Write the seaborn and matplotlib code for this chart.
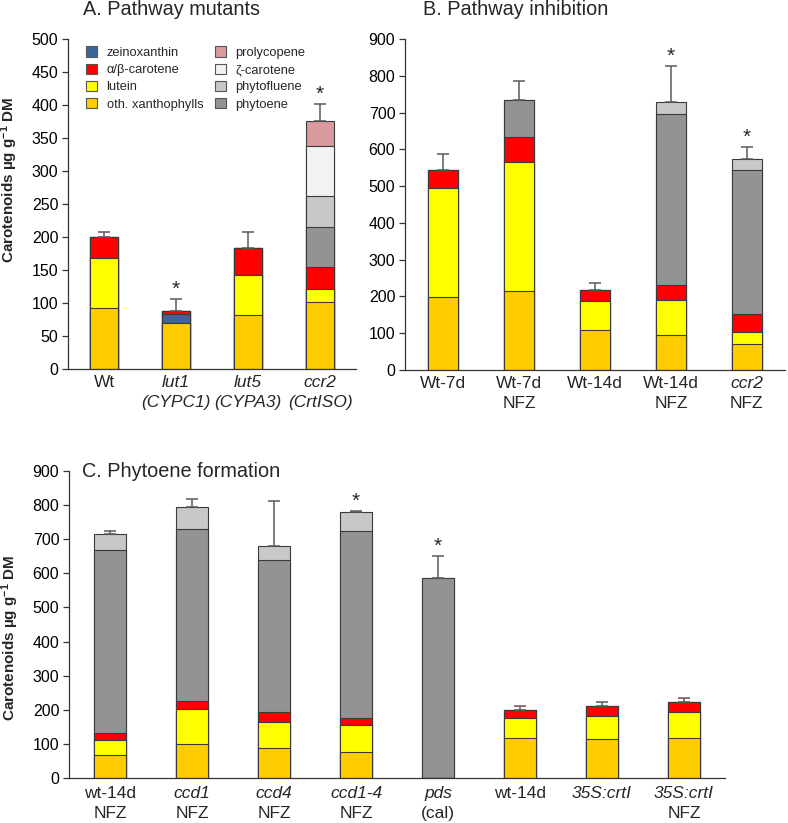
import numpy as np
import seaborn as sns
import matplotlib
matplotlib.use('Agg')
import matplotlib.pyplot as plt
from matplotlib.patches import Patch

# ---------------- data ---------------- #
comp_names = ['oth. xanthophylls', 'lutein', 'zeinoxanthin', u'\u03b1/\u03b2-carotene',
              'phytoene', 'phytofluene', u'\u03b6-carotene', 'prolycopene']
comp_colors = ['#FFCC00', '#FFFF00', '#3A6699', '#FF0000',
               '#939393', '#C8C8C8', '#F2F2F2', '#D99A9E']

# A. Pathway mutants
a_cats = ['Wt', 'lut1', 'lut5', 'ccr2']
a_line1 = ['Wt', 'lut1', 'lut5', 'ccr2']
a_line2 = ['', '(CYPC1)', '(CYPA3)', '(CrtISO)']
a_oth = [92, 70, 82, 102]
a_lutein = [76, 0, 60, 19]
a_zeino = [0, 14, 0, 0]
a_ab = [32, 4, 42, 33]
a_phytoene = [0, 0, 0, 61]
a_phytofluene = [0, 0, 0, 47]
a_zeta = [0, 0, 0, 76]
a_prolyco = [0, 0, 0, 38]
a_err = [7, 18, 24, 25]
a_star = [False, True, False, True]

# B. Pathway inhibition
b_cats = ['Wt-7d', 'Wt-7d NFZ', 'Wt-14d', 'Wt-14d NFZ', 'ccr2 NFZ']
b_line1 = ['Wt-7d', 'Wt-7d', 'Wt-14d', 'Wt-14d', 'ccr2']
b_line2 = ['', 'NFZ', '', 'NFZ', 'NFZ']
b_oth = [199, 215, 108, 94, 70]
b_lutein = [295, 350, 80, 96, 34]
b_ab = [50, 68, 30, 40, 48]
b_phytoene = [0, 102, 0, 466, 392]
b_phytofluene = [0, 0, 0, 32, 30]
b_err = [43, 52, 18, 99, 32]
b_star = [False, False, False, True, True]

# C. Phytoene formation
c_cats = ['wt-14d NFZ', 'ccd1 NFZ', 'ccd4 NFZ', 'ccd1-4 NFZ', 'pds (cal)',
          'wt-14d', '35S:crtI', '35S:crtI NFZ']
c_line1 = ['wt-14d', 'ccd1', 'ccd4', 'ccd1-4', 'pds', 'wt-14d', '35S:crtI', '35S:crtI']
c_line2 = ['NFZ', 'NFZ', 'NFZ', 'NFZ', '(cal)', '', '', 'NFZ']
c_oth = [67, 101, 88, 77, 0, 116, 114, 118]
c_lutein = [45, 102, 76, 78, 0, 60, 67, 74]
c_ab = [20, 23, 29, 21, 0, 23, 31, 31]
c_phytoene = [537, 503, 447, 549, 586, 0, 0, 0]
c_phytofluene = [47, 66, 41, 55, 0, 0, 0, 0]
c_err = [9, 23, 132, 4, 64, 11, 10, 11]
c_star = [False, False, False, True, True, False, False, False]

# ---------------- style ---------------- #
sns.set_style('ticks')
plt.rcParams['font.family'] = ['Liberation Sans', 'DejaVu Sans']
plt.rcParams['mathtext.fontset'] = 'custom'
plt.rcParams['mathtext.rm'] = 'Liberation Sans'
plt.rcParams['mathtext.it'] = 'Liberation Sans:italic'
plt.rcParams['mathtext.bf'] = 'Liberation Sans:bold'
plt.rcParams['axes.linewidth'] = 0.9
plt.rcParams['axes.edgecolor'] = '#333333'
plt.rcParams['xtick.major.size'] = 0
plt.rcParams['ytick.major.size'] = 4
plt.rcParams['ytick.major.width'] = 0.9
plt.rcParams['ytick.color'] = '#333333'
plt.rcParams['ytick.labelcolor'] = 'black'

EDGE = '#3a3a3a'
ERRC = '#5a5a5a'
ITALIC1 = {'lut1', 'lut5', 'ccr2', 'ccd1', 'ccd4', 'ccd1-4', 'pds', '35S:crtI'}
ITALIC2 = {'(CYPC1)', '(CYPA3)', '(CrtISO)'}


def draw_panel(ax, cats, segs, err, stars, line1, line2, ymax, ystep, lab_off):
    # segs: list of (component index, values), bottom to top
    vals = np.array([v for _, v in segs], dtype=float)
    cum = np.cumsum(vals, axis=0)
    # draw cumulative bars top-first so the lower segments overlay them
    for k in range(len(segs) - 1, -1, -1):
        ci = segs[k][0]
        sns.barplot(x=cats, y=cum[k], order=cats, color=comp_colors[ci], saturation=1,
                    width=0.4, edgecolor=EDGE, linewidth=0.8, ax=ax)
    n = len(cats)
    tot = cum[-1]
    ax.errorbar(np.arange(n), tot, yerr=[np.zeros(n), err], fmt='none', ecolor=ERRC,
                elinewidth=1.1, capsize=4.5, capthick=1.1, zorder=5)
    for i in range(n):
        if stars[i]:
            ax.annotate('*', xy=(i, tot[i] + err[i]), xytext=(0, 3), textcoords='offset points',
                        ha='center', va='baseline', fontsize=15)
    ax.set_xlim(-0.5, n - 0.5)
    ax.set_ylim(0, ymax)
    ax.set_yticks(np.arange(0, ymax + 1, ystep))
    ax.tick_params(axis='y', labelsize=11.5, direction='out', pad=3)
    ax.set_xticks([])
    ax.set_xlabel('')
    ax.set_ylabel('')
    for i in range(n):
        ax.annotate(line1[i], xy=(i, 0), xycoords=('data', 'axes fraction'),
                    xytext=(0, -lab_off), textcoords='offset points', ha='center', va='top',
                    fontsize=12.5, style='italic' if line1[i] in ITALIC1 else 'normal')
        if line2[i]:
            ax.annotate(line2[i], xy=(i, 0), xycoords=('data', 'axes fraction'),
                        xytext=(0, -lab_off - 14.5), textcoords='offset points', ha='center',
                        va='top', fontsize=12.5,
                        style='italic' if line2[i] in ITALIC2 else 'normal')
    sns.despine(ax=ax)


fig = plt.figure(figsize=(7.88, 8.23), dpi=100)
ylab = r'Carotenoids µg g$^{\mathbf{-1}}$ DM'

# ---- A ----
axA = fig.add_axes([0.0863, 0.5516, 0.3655, 0.4010])
draw_panel(axA, a_cats,
           [(0, a_oth), (1, a_lutein), (2, a_zeino), (3, a_ab), (4, a_phytoene),
            (5, a_phytofluene), (6, a_zeta), (7, a_prolyco)],
           a_err, a_star, a_line1, a_line2, 500, 50, 4)
axA.text(0.052, 1.09, 'A. Pathway mutants', transform=axA.transAxes, ha='left', va='center',
         fontsize=14.3)
axA.set_ylabel(ylab, fontsize=11, fontweight='bold')
axA.yaxis.set_label_coords(-0.165, 0.574)
order = [2, 3, 1, 0, 7, 6, 5, 4]
handles = [Patch(facecolor=comp_colors[i], edgecolor='#555555', linewidth=0.8) for i in order]
axA.legend(handles, [comp_names[i] for i in order], ncol=2, loc='upper left',
           bbox_to_anchor=(0.062, 0.978), frameon=False, fontsize=9.3, handlelength=0.85,
           handleheight=0.85, handletextpad=0.75, columnspacing=0.9, labelspacing=0.36,
           borderaxespad=0, borderpad=0)

# ---- B ----
axB = fig.add_axes([0.514, 0.5504, 0.482, 0.4022])
draw_panel(axB, b_cats,
           [(0, b_oth), (1, b_lutein), (3, b_ab), (4, b_phytoene), (5, b_phytofluene)],
           b_err, b_star, b_line1, b_line2, 900, 100, 4)
axB.text(0.047, 1.09, 'B. Pathway inhibition', transform=axB.transAxes, ha='left',
         va='center', fontsize=14.3)

# ---- C ----
axC = fig.add_axes([0.0876, 0.0547, 0.8325, 0.3730])
draw_panel(axC, c_cats,
           [(0, c_oth), (1, c_lutein), (3, c_ab), (4, c_phytoene), (5, c_phytofluene)],
           c_err, c_star, c_line1, c_line2, 900, 100, 6)
axC.text(0.02, 0.997, 'C. Phytoene formation', transform=axC.transAxes, ha='left',
         va='center', fontsize=14.3)
axC.set_ylabel(ylab, fontsize=11, fontweight='bold')
axC.yaxis.set_label_coords(-0.073, 0.458)

fig.savefig('out.png', dpi=100)
